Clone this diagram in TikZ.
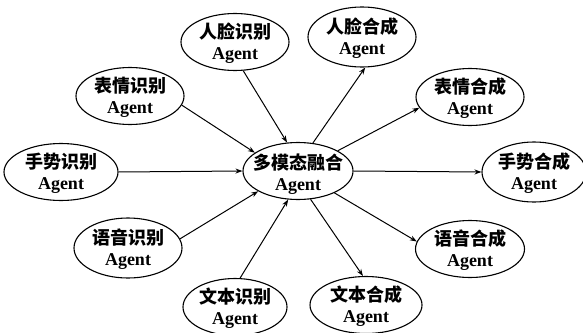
\documentclass[tikz,border=0pt]{standalone}
\usepackage{fontspec}
\setmainfont{Liberation Serif}
\newfontfamily\cjk{Noto Sans CJK SC}
\usetikzlibrary{arrows.meta,shapes.geometric}
\tikzset{
  el/.style={ellipse,draw,line width=1.1pt,inner sep=0pt,minimum width=108pt,minimum height=57pt},
  lbl/.style={align=center,inner sep=0pt,font=\fontsize{18}{21}\selectfont\bfseries},
  arr/.style={line width=1pt,-{Stealth[length=7pt,width=5pt]}}
}
\newcommand{\ag}[1]{{\cjk\bfseries #1}\\Agent}
\begin{document}
\begin{tikzpicture}[x=1pt,y=-1pt]
\useasboundingbox (0,0) rectangle (583,332);
% centre
\node[el,minimum width=110pt] (c) at (298,171) {};
\node[lbl] (ct) at (298,174) {\ag{多模态融合}};
% recognition agents
\node[el] (r1) at (235,42) {};
\node[lbl] (r1t) at (235,43) {\ag{人脸识别}};
\node[el] (r2) at (130,96) {};
\node[lbl] (r2t) at (130,97) {\ag{表情识别}};
\node[el,minimum width=114pt] (r3) at (61,172) {};
\node[lbl] (r3t) at (61,173) {\ag{手势识别}};
\node[el,minimum height=60pt] (r4) at (128,248) {};
\node[lbl] (r4t) at (128,249) {\ag{语音识别}};
\node[el,minimum width=104pt] (r5) at (235,307) {};
\node[lbl] (r5t) at (235,308) {\ag{文本识别}};
% synthesis agents
\node[el,minimum height=60pt] (s1) at (362,37) {};
\node[lbl] (s1t) at (362,38) {\ag{人脸合成}};
\node[el] (s2) at (470,97) {};
\node[lbl] (s2t) at (470,98) {\ag{表情合成}};
\node[el,minimum width=104pt,minimum height=60pt] (s3) at (534,172) {};
\node[lbl] (s3t) at (534,173) {\ag{手势合成}};
\node[el,minimum width=109pt] (s4) at (470,249) {};
\node[lbl] (s4t) at (470,250) {\ag{语音合成}};
\node[el,minimum width=112pt] (s5) at (366,305) {};
\node[lbl] (s5t) at (366,306) {\ag{文本合成}};
% connectors
\draw[arr] (r1.-74) -- (c.111);
\draw[arr] (r2.-10) -- (c.157);
\draw[arr] (r3.east) -- (c.west);
\draw[arr] (r4.10) -- (c.207);
\draw[arr] (r5.80) -- (c.251);
\draw[arr] (c.62) -- (s1.-84);
\draw[arr] (c.27) -- (s2.192);
\draw[arr] (c.east) -- (s3.west);
\draw[arr] (c.-31) -- (s4.172);
\draw[arr] (c.-66) -- (s5.96);
\end{tikzpicture}
\end{document}
